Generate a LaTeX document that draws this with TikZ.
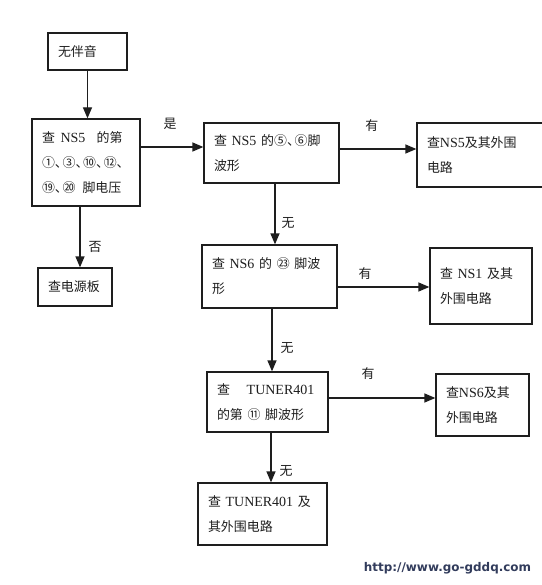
\documentclass[tikz,border=0pt]{standalone}
\usepackage{fontspec}
\setmainfont{Liberation Serif}[Scale=1.08]
\newfontfamily\cjfont{Noto Sans CJK SC}
\newfontfamily\urlfont{DejaVu Sans}
\usetikzlibrary{arrows.meta,positioning}
\usepackage{xcolor}
\definecolor{ink}{RGB}{30,30,30}
\definecolor{lnk}{RGB}{50,60,92}
\newcommand\zh[1]{{\cjfont #1}}
\newcommand\zhdun{\zh{、}\hspace{-0.38em}}

\begin{document}
\begin{tikzpicture}[
    x=1bp, y=-1bp,
    every node/.style={font=\fontsize{13}{25}\selectfont, text=ink},
    box/.style={rectangle, draw=ink, line width=1.3pt, align=left, inner xsep=10bp, inner ysep=3bp},
    arr/.style={-{Triangle[length=11bp,width=9bp]}, draw=ink, line width=1.3pt},
    lbl/.style={inner sep=1pt},
]

% ── canvas ──
\useasboundingbox[fill=white] (0,0) rectangle (542,585);

% ── left column ──
\node[box, text width=59bp, minimum height=37bp] (nosound) at (87.5,51.5) {\zh{无伴音}};
\node[box, text width=88bp, minimum height=87bp] (ns5volt) at (86,162.5)
  {\zh{查}\hspace{0.4em}NS5\hspace{0.8em}\zh{的第}\\
   \zh{①}\zhdun\zh{③}\zhdun\zh{⑩}\zhdun\zh{⑫}\zh{、}\\
   \zh{⑲}\zhdun\zh{⑳}\hspace{0.5em}\zh{脚电压}};
\node[box, text width=54bp, minimum height=38bp] (power) at (75,287) {\zh{查电源板}};

% ── middle column ──
\node[box, text width=115bp, minimum height=60bp] (ns5wave) at (271.5,153)
  {\zh{查} NS5 \zh{的⑤}\zhdun\zh{⑥脚}\\ \zh{波形}};
\node[box, text width=115bp, minimum height=63bp] (ns6wave) at (269.5,276.5)
  {\zh{查} NS6 \zh{的} \zh{㉓} \zh{脚波}\\ \zh{形}};
\node[box, text width=101bp, minimum height=60bp] (tunwave) at (267.5,402)
  {\zh{查}\hspace{1.2em}TUNER401\\ \zh{的第} \zh{⑪} \zh{脚波形}};
\node[box, text width=109bp, minimum height=62bp] (tuncirc) at (262.5,514)
  {\zh{查} TUNER401 \zh{及}\\ \zh{其外围电路}};

% ── right column ──
\node[box, text width=123bp, minimum height=64bp] (ns5circ) at (488.5,155)
  {\zh{查}NS5\zh{及其外围}\\ \zh{电路}};
\node[box, text width=82bp, minimum height=76bp] (ns1circ) at (481,286)
  {\zh{查} NS1 \zh{及其}\\ \zh{外围电路}};
\node[box, text width=73bp, minimum height=62bp] (ns6circ) at (482.5,405)
  {\zh{查}NS6\zh{及其}\\ \zh{外围电路}};

% ── connectors ──
\draw[arr] (nosound.south) -- (nosound.south |- ns5volt.north);
\draw[arr] (ns5volt.south -| 80,0) -- (power.north -| 80,0)
  node[lbl, pos=0.66, xshift=15bp] (lno) {\zh{否}};
\draw[arr] (ns5volt.east |- 0,147) -- (ns5wave.west |- 0,147)
  node[lbl, pos=0.47, yshift=23bp] (lyes) {\zh{是}};
\draw[arr] (ns5wave.east |- 0,149) -- (ns5circ.west |- 0,149)
  node[lbl, pos=0.42, yshift=23bp] (lhas1) {\zh{有}};
\draw[arr] (ns5wave.south -| 275,0) -- (ns6wave.north -| 275,0)
  node[lbl, pos=0.65, xshift=13bp] (lnone1) {\zh{无}};
\draw[arr] (ns6wave.east |- 0,287) -- (ns1circ.west |- 0,287)
  node[lbl, pos=0.3, yshift=13bp] (lhas2) {\zh{有}};
\draw[arr] (ns6wave.south -| 272,0) -- (tunwave.north -| 272,0)
  node[lbl, pos=0.63, xshift=15bp] (lnone2) {\zh{无}};
\draw[arr] (tunwave.east |- 0,398) -- (ns6circ.west |- 0,398)
  node[lbl, pos=0.37, yshift=24bp] (lhas3) {\zh{有}};
\draw[arr] (tunwave.south -| 271,0) -- (tuncirc.north -| 271,0)
  node[lbl, pos=0.78, xshift=15bp] (lnone3) {\zh{无}};

% ── site mark ──
\node[font=\urlfont\bfseries\fontsize{12}{14}\selectfont, text=lnk] (site) at (447.5,568) {http://www.go-gddq.com};

\end{tikzpicture}
\end{document}
